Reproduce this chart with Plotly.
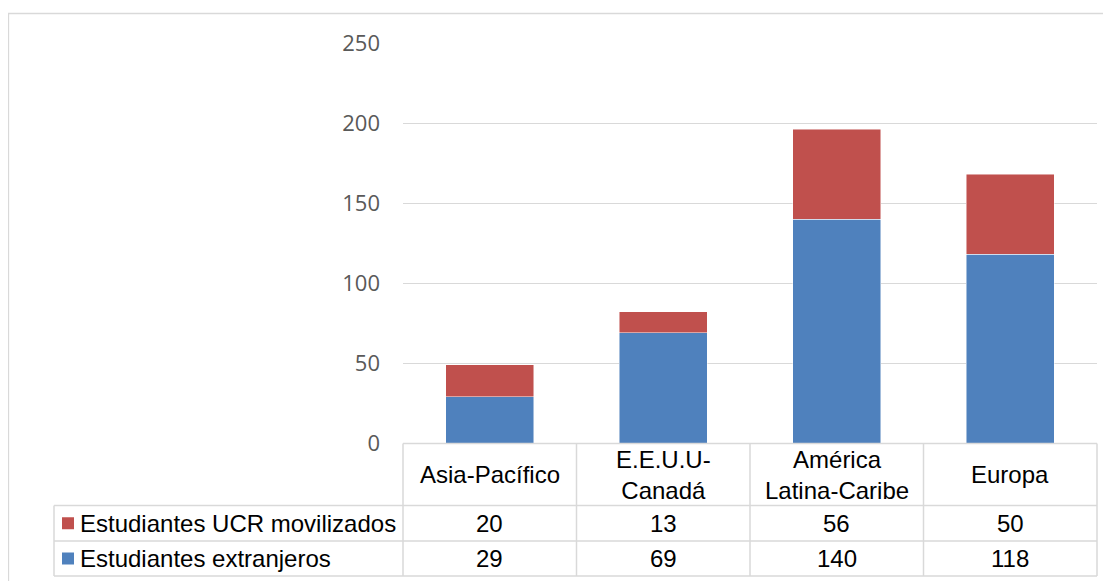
import plotly.graph_objects as go

categories = ["Asia-Pacífico", "E.E.U.U-<br>Canadá", "América<br>Latina-Caribe", "Europa"]
series_names = ["Estudiantes UCR movilizados", "Estudiantes extranjeros"]
ucr_movilizados = [20, 13, 56, 50]
extranjeros = [29, 69, 140, 118]
y_ticks = [0, 50, 100, 150, 200, 250]

BLUE = "#4F81BD"
RED = "#C0504D"
GRID = "#D9D9D9"

OFF = 8  # page body margin
FW, FH = 1111 - OFF, 581 - OFF
def px(x):
    return (x - OFF) / FW
def py(y):
    return 1 - (y - OFF) / FH

plot_left, plot_right = 403, 1097
plot_top, plot_bottom = 43, 443

fig = go.Figure()
fig.add_trace(go.Bar(x=list(range(4)), y=extranjeros, name=series_names[1],
                     marker=dict(color=BLUE, line=dict(color="rgba(255,255,255,0.6)", width=0.8)),
                     width=0.507))
fig.add_trace(go.Bar(x=list(range(4)), y=ucr_movilizados, name=series_names[0],
                     marker=dict(color=RED, line=dict(color="rgba(255,255,255,0.6)", width=0.8)),
                     width=0.507))

fig.update_layout(
    width=FW, height=FH, barmode="stack", showlegend=False,
    margin=dict(l=0, r=0, t=0, b=0, autoexpand=False),
    plot_bgcolor="white", paper_bgcolor="white",
    xaxis=dict(domain=[px(plot_left), px(plot_right)], range=[-0.5, 3.5], automargin=False,
               showticklabels=False, showgrid=False, zeroline=False, showline=False, ticks=""),
    yaxis=dict(domain=[py(plot_bottom), py(plot_top)], range=[0, 250], automargin=False,
               tickvals=y_ticks, showgrid=True, gridcolor=GRID, gridwidth=1.3,
               zeroline=False, showline=False, ticks="",
               tickfont=dict(family="Open Sans", size=22, color="#595959"),
               ticklabelstandoff=22),
)

shapes = []
# outer border
shapes.append(dict(type="rect", xref="paper", yref="paper", x0=px(8.5), x1=px(1130),
                   y0=py(620), y1=py(13.5), line=dict(color=GRID, width=1.3)))

col_edges = [plot_left + (plot_right - plot_left) * i / 4 for i in range(5)]
row_edges = [443.5, 505.5, 541, 576]
table_left = 54

def hline(x0, x1, y):
    shapes.append(dict(type="line", xref="paper", yref="paper", x0=px(x0), x1=px(x1),
                       y0=py(y), y1=py(y), line=dict(color=GRID, width=1.5)))
def vline(x, y0, y1):
    shapes.append(dict(type="line", xref="paper", yref="paper", x0=px(x), x1=px(x),
                       y0=py(y0), y1=py(y1), line=dict(color=GRID, width=1.5)))

hline(plot_left, plot_right, row_edges[0])
for y in row_edges[1:]:
    hline(table_left, plot_right, y)
for x in col_edges:
    vline(x, row_edges[0], row_edges[-1])
vline(table_left, row_edges[1], row_edges[-1])

annotations = []
TFONT = dict(family="Liberation Sans, Arial", size=24, color="black")
hdr_y = (row_edges[0] + row_edges[1]) / 2
for i, cat in enumerate(categories):
    cx = (col_edges[i] + col_edges[i + 1]) / 2
    annotations.append(dict(x=px(cx), y=py(hdr_y), xref="paper", yref="paper", text=cat,
                            showarrow=False, font=TFONT, xanchor="center", yanchor="middle"))

rows = [(series_names[0], RED, ucr_movilizados), (series_names[1], BLUE, extranjeros)]
for r, (name, color, vals) in enumerate(rows):
    ry = (row_edges[r + 1] + row_edges[r + 2]) / 2
    shapes.append(dict(type="rect", xref="paper", yref="paper", x0=px(62), x1=px(74),
                       y0=py(ry + 6), y1=py(ry - 6), fillcolor=color, line=dict(width=0)))
    annotations.append(dict(x=px(78), y=py(ry), xref="paper", yref="paper", text=name,
                            showarrow=False, font=TFONT, xanchor="left", yanchor="middle"))
    for i, v in enumerate(vals):
        cx = (col_edges[i] + col_edges[i + 1]) / 2
        annotations.append(dict(x=px(cx), y=py(ry), xref="paper", yref="paper", text=str(v),
                                showarrow=False, font=TFONT, xanchor="center", yanchor="middle"))

fig.update_layout(shapes=shapes, annotations=annotations)
fig.write_html("out.html")
